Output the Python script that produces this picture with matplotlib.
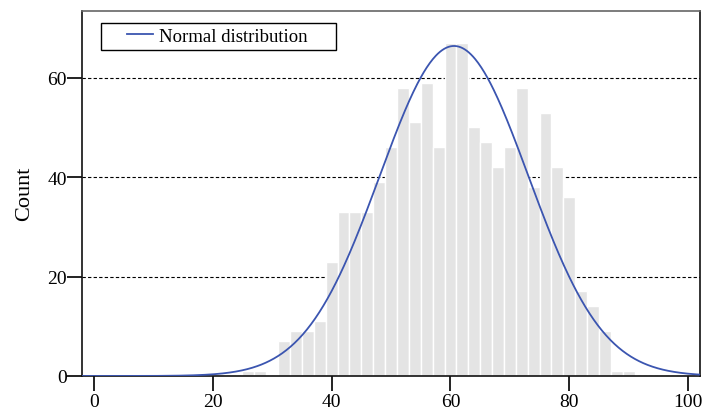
"""
Histogram of scores with a fitted normal curve
"""

import numpy as np
import matplotlib.pyplot as plt
from matplotlib.legend_handler import HandlerLine2D

plt.rcParams['font.family'] = ['Liberation Serif', 'DejaVu Serif']

# ==================== data ====================
bin_centers = [26, 28, 30, 32, 34, 36, 38, 40, 42, 44, 46, 48, 50, 52, 54, 56, 58,
               60, 62, 64, 66, 68, 70, 72, 74, 76, 78, 80, 82, 84, 86, 88, 90]
counts = [1, 1, 0, 7, 9, 9, 11, 23, 33, 33, 33, 39, 46, 58, 51, 59, 46,
          67, 67, 50, 47, 42, 46, 58, 38, 53, 42, 36, 17, 14, 9, 1, 1]
bin_width = 2

# fitted normal distribution
fit_mean = 60.6
fit_std = 12.5
fit_n = 1040

x_ticks = [0, 20, 40, 60, 80, 100]
y_ticks = [0, 20, 40, 60]


# legend line drawn only on the right part of the handle box
class PaddedLine(HandlerLine2D):
    def create_artists(self, legend, orig_handle, xdescent, ydescent,
                       width, height, fontsize, trans):
        artists = super().create_artists(legend, orig_handle, xdescent, ydescent,
                                         width, height, fontsize, trans)
        line = artists[0]
        x0 = -xdescent + width * 0.45
        line.set_xdata([x0, -xdescent + width])
        line.set_ydata([line.get_ydata()[0]] * 2)
        return artists


# ==================== plot ====================
fig = plt.figure(figsize=(7.05, 4.14), dpi=100)
ax = fig.add_axes([0.1163, 0.0894, 0.8767, 0.8826])

ax.bar(bin_centers, counts, width=bin_width, color='#e4e4e4',
       edgecolor='white', linewidth=1.0, zorder=2)

xs = np.linspace(-2, 102, 600)
pdf = np.exp(-0.5 * ((xs - fit_mean) / fit_std) ** 2) / (fit_std * np.sqrt(2 * np.pi))
curve, = ax.plot(xs, pdf * fit_n * bin_width, color='#3b55b0', linewidth=1.3,
                 label='Normal distribution', zorder=3)

ax.set_xlim(-2, 102)
ax.set_ylim(0, 73.5)
ax.set_xticks(x_ticks)
ax.set_yticks(y_ticks)
ax.tick_params(axis='both', direction='out', length=10.5, width=1.4,
               labelsize=14, color='#222222')
ax.tick_params(axis='x', pad=2)
ax.tick_params(axis='y', pad=0.5)
ax.set_ylabel('Count', fontsize=16)
ax.yaxis.set_label_coords(-0.077, 0.5)

ax.yaxis.grid(True, linestyle=(0, (3, 2)), color='black', linewidth=0.8, zorder=0)
ax.set_axisbelow(True)

for side in ['left', 'right', 'bottom']:
    ax.spines[side].set_color('#111111')
    ax.spines[side].set_linewidth(1.2)
ax.spines['top'].set_color('#666666')
ax.spines['top'].set_linewidth(1.2)

leg = ax.legend(loc='upper left', bbox_to_anchor=(0.031, 0.5, 0.38, 0.467),
                mode='expand', fancybox=False, framealpha=1, edgecolor='black',
                fontsize=13.5, handlelength=2.5, handletextpad=0.3,
                borderpad=0.28, borderaxespad=0,
                handler_map={curve: PaddedLine()})
leg.get_frame().set_linewidth(1.0)

plt.savefig('out.png', dpi=100)
